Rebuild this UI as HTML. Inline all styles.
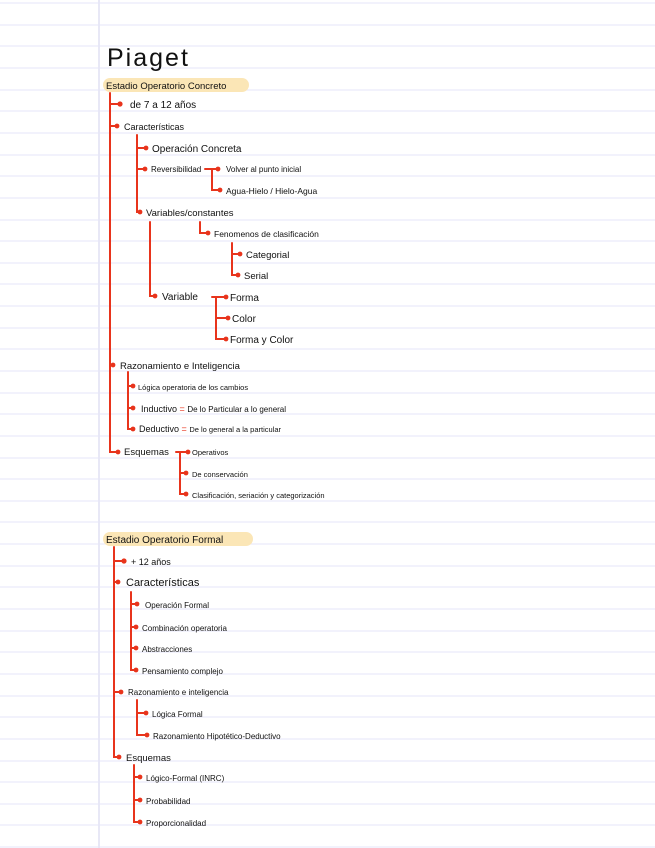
<!DOCTYPE html>
<html><head><meta charset="utf-8"><style>
html,body{margin:0;padding:0;background:#fff}
svg{display:block}
text{font-family:"Liberation Sans",sans-serif;fill:#111}
</style></head><body>
<svg width="655" height="848" viewBox="0 0 655 848" xmlns="http://www.w3.org/2000/svg">
<line x1="99" y1="0" x2="99" y2="848" stroke="#dcdcf2" stroke-width="1.3"/>
<g stroke="#e6e6f8" stroke-width="1.1">
<line x1="0" y1="3" x2="655" y2="3"/><line x1="0" y1="25" x2="655" y2="25"/><line x1="0" y1="46" x2="655" y2="46"/>
<line x1="0" y1="68" x2="655" y2="68"/><line x1="0" y1="90" x2="655" y2="90"/><line x1="0" y1="111" x2="655" y2="111"/>
<line x1="0" y1="133" x2="655" y2="133"/><line x1="0" y1="155" x2="655" y2="155"/><line x1="0" y1="176" x2="655" y2="176"/>
<line x1="0" y1="198" x2="655" y2="198"/><line x1="0" y1="220" x2="655" y2="220"/><line x1="0" y1="241" x2="655" y2="241"/>
<line x1="0" y1="263" x2="655" y2="263"/><line x1="0" y1="284" x2="655" y2="284"/><line x1="0" y1="306" x2="655" y2="306"/>
<line x1="0" y1="328" x2="655" y2="328"/><line x1="0" y1="349" x2="655" y2="349"/><line x1="0" y1="371" x2="655" y2="371"/>
<line x1="0" y1="393" x2="655" y2="393"/><line x1="0" y1="414" x2="655" y2="414"/><line x1="0" y1="436" x2="655" y2="436"/>
<line x1="0" y1="458" x2="655" y2="458"/><line x1="0" y1="479" x2="655" y2="479"/><line x1="0" y1="501" x2="655" y2="501"/>
<line x1="0" y1="522" x2="655" y2="522"/><line x1="0" y1="544" x2="655" y2="544"/><line x1="0" y1="566" x2="655" y2="566"/>
<line x1="0" y1="587" x2="655" y2="587"/><line x1="0" y1="609" x2="655" y2="609"/><line x1="0" y1="631" x2="655" y2="631"/>
<line x1="0" y1="652" x2="655" y2="652"/><line x1="0" y1="674" x2="655" y2="674"/><line x1="0" y1="696" x2="655" y2="696"/>
<line x1="0" y1="717" x2="655" y2="717"/><line x1="0" y1="739" x2="655" y2="739"/><line x1="0" y1="761" x2="655" y2="761"/>
<line x1="0" y1="782" x2="655" y2="782"/><line x1="0" y1="804" x2="655" y2="804"/><line x1="0" y1="825" x2="655" y2="825"/>
<line x1="0" y1="847" x2="655" y2="847"/>
</g>

<text x="107" y="66" font-size="25" letter-spacing="2">Piaget</text>
<rect x="103" y="78" width="146" height="14" rx="7" fill="#fbe6b6"/>
<text x="106" y="89" font-size="9.5">Estadio Operatorio Concreto</text>

<g stroke="#e8341c" stroke-width="2" fill="none" stroke-linecap="round">
<path d="M110 93 V452 H118"/>
<path d="M110 104 H120"/><path d="M110 126 H117"/><path d="M110 365 H113"/>
<path d="M137 135 V212 H140"/><path d="M137 148 H146"/><path d="M137 169 H145"/>
<path d="M205 169 H218 M212 169 V190 H220"/>
<path d="M150 222 V296 H155"/>
<path d="M200 222 V233 H208"/>
<path d="M232 243 V275 H238 M232 254 H240"/>
<path d="M212 297 H226 M216 297 V339 H226 M216 318 H228"/>
<path d="M128 372 V429 H133 M128 386 H133 M128 408 H133"/>
<path d="M176 452 H188 M180 452 V494 H186 M180 473 H186"/>
<path d="M114 547 V757 H119 M114 561 H124 M114 582 H118 M114 692 H121"/>
<path d="M131 592 V670 H136 M131 604 H137 M131 627 H136 M131 648 H136"/>
<path d="M137 700 V735 H147 M137 713 H146"/>
<path d="M134 765 V822 H140 M134 777 H140 M134 800 H140"/>
</g>
<g fill="#e8341c">
<circle cx="120" cy="104" r="2.6"/><circle cx="117" cy="126" r="2.4"/><circle cx="146" cy="148" r="2.4"/>
<circle cx="145" cy="169" r="2.4"/><circle cx="218" cy="169" r="2.4"/><circle cx="220" cy="190" r="2.4"/>
<circle cx="140" cy="212" r="2.4"/><circle cx="208" cy="233" r="2.4"/><circle cx="240" cy="254" r="2.4"/>
<circle cx="238" cy="275" r="2.4"/><circle cx="155" cy="296" r="2.4"/><circle cx="226" cy="297" r="2.4"/>
<circle cx="228" cy="318" r="2.4"/><circle cx="226" cy="339" r="2.4"/><circle cx="113" cy="365" r="2.4"/>
<circle cx="133" cy="386" r="2.4"/><circle cx="133" cy="408" r="2.4"/><circle cx="133" cy="429" r="2.4"/>
<circle cx="118" cy="452" r="2.4"/><circle cx="188" cy="452" r="2.4"/><circle cx="186" cy="473" r="2.4"/>
<circle cx="186" cy="494" r="2.4"/>
<circle cx="124" cy="561" r="2.6"/><circle cx="118" cy="582" r="2.4"/><circle cx="137" cy="604" r="2.4"/>
<circle cx="136" cy="627" r="2.4"/><circle cx="136" cy="648" r="2.4"/><circle cx="136" cy="670" r="2.4"/>
<circle cx="121" cy="692" r="2.4"/><circle cx="146" cy="713" r="2.4"/><circle cx="147" cy="735" r="2.4"/>
<circle cx="119" cy="757" r="2.4"/><circle cx="140" cy="777" r="2.4"/><circle cx="140" cy="800" r="2.4"/>
<circle cx="140" cy="822" r="2.4"/>
</g>

<g font-size="10">
<text x="130" y="108">de 7 a 12 años</text>
<text x="124" y="130" font-size="9">Características</text>
<text x="152" y="152">Operación Concreta</text>
<text x="151" y="172" font-size="8">Reversibilidad</text>
<text x="226" y="172" font-size="8">Volver al punto inicial</text>
<text x="226" y="194" font-size="8.5">Agua-Hielo / Hielo-Agua</text>
<text x="146" y="216" font-size="9.5">Variables/constantes</text>
<text x="214" y="237" font-size="8.5">Fenomenos de clasificación</text>
<text x="246" y="258" font-size="9.5">Categorial</text>
<text x="244" y="279" font-size="9.5">Serial</text>
<text x="162" y="300">Variable</text>
<text x="230" y="301">Forma</text>
<text x="232" y="322">Color</text>
<text x="230" y="343">Forma y Color</text>
<text x="120" y="369" font-size="9.5">Razonamiento e Inteligencia</text>
<text x="138" y="390" font-size="7.5">Lógica operatoria de los cambios</text>
<text x="141" y="412" font-size="9">Inductivo <tspan fill="#e8341c">=</tspan> <tspan font-size="8">De lo Particular a lo general</tspan></text>
<text x="139" y="432" font-size="9">Deductivo <tspan fill="#e8341c">=</tspan> <tspan font-size="7.5">De lo general a la particular</tspan></text>
<text x="124" y="455" font-size="9.5">Esquemas</text>
<text x="192" y="455" font-size="7.5">Operativos</text>
<text x="192" y="477" font-size="7.5">De conservación</text>
<text x="192" y="498" font-size="7.5">Clasificación, seriación y categorización</text>
</g>

<rect x="103" y="532" width="150" height="14" rx="7" fill="#fbe6b6"/>
<text x="106" y="543" font-size="10">Estadio Operatorio Formal</text>
<g font-size="8">
<text x="131" y="565" font-size="9">+ 12 años</text>
<text x="126" y="586" font-size="11">Características</text>
<text x="145" y="608">Operación Formal</text>
<text x="142" y="631">Combinación operatoria</text>
<text x="142" y="652">Abstracciones</text>
<text x="142" y="674">Pensamiento complejo</text>
<text x="128" y="695">Razonamiento e inteligencia</text>
<text x="152" y="717">Lógica Formal</text>
<text x="153" y="739">Razonamiento Hipotético-Deductivo</text>
<text x="126" y="761" font-size="9.5">Esquemas</text>
<text x="146" y="781">Lógico-Formal (INRC)</text>
<text x="146" y="804">Probabilidad</text>
<text x="146" y="826">Proporcionalidad</text>
</g>
</svg>
</body></html>
